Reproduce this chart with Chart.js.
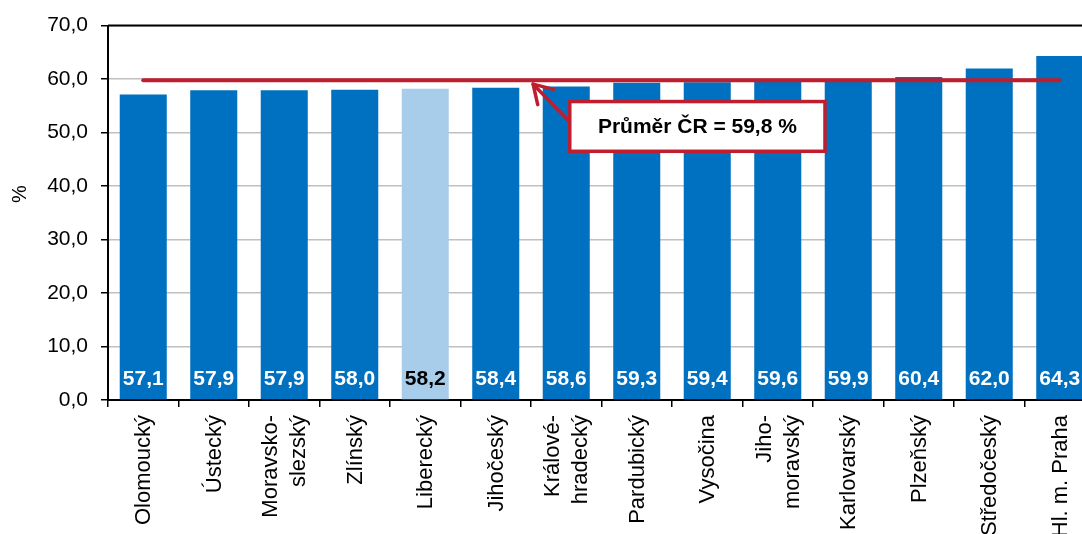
<!DOCTYPE html>
<html><head><meta charset="utf-8">
<script src="https://cdn.jsdelivr.net/npm/chart.js@4"></script>
<style>html,body{margin:0;padding:0;overflow:hidden;background:#fff}#wrap{width:1100px;height:534px;position:relative}</style>
</head><body><div id="wrap"><canvas id="c"></canvas></div>
<script>
const categories = [["Olomoucký"],["Ústecký"],["Moravsko-","slezský"],["Zlínský"],["Liberecký"],["Jihočeský"],["Králové-","hradecký"],["Pardubický"],["Vysočina"],["Jiho-","moravský"],["Karlovarský"],["Plzeňský"],["Středočeský"],["Hl. m. Praha"]];
const values = [57.1,57.9,57.9,58.0,58.2,58.4,58.6,59.3,59.4,59.6,59.9,60.4,62.0,64.3];
const average = 59.8;
const highlightIndex = 4;
const yMin = 0, yMax = 70, yStep = 10;
const annotationText = "Průměr ČR = 59,8 %";
const axisTitle = "%";

const FONT = '"Liberation Sans", Arial, Helvetica, sans-serif';
const BLUE = '#0070C0', LIGHT = '#A7CDEA', RED = '#BF1E2E';
const fmt = v => v.toFixed(1).replace('.', ',');

const labelsPlugin = {
  id: 'labels',
  afterDatasetsDraw(chart) {
    const ctx = chart.ctx, meta = chart.getDatasetMeta(1), yS = chart.scales.y;
    ctx.save();
    ctx.font = 'bold 21px ' + FONT;
    ctx.textAlign = 'center'; ctx.textBaseline = 'middle';
    meta.data.forEach((bar, i) => {
      ctx.fillStyle = i === highlightIndex ? '#000' : '#fff';
      ctx.fillText(fmt(values[i]), bar.x, yS.bottom - 21);
    });
    ctx.restore();
  },
  afterDraw(chart) {
    const ctx = chart.ctx, xS = chart.scales.x, yS = chart.scales.y, a = chart.chartArea;
    ctx.save();
    // top frame line
    ctx.strokeStyle = '#000'; ctx.lineWidth = 2;
    ctx.beginPath(); ctx.moveTo(a.left, a.top); ctx.lineTo(a.right, a.top); ctx.stroke();
    // axis title
    ctx.fillStyle = '#000'; ctx.font = '20px ' + FONT;
    ctx.translate(20, yS.getPixelForValue(38.5)); ctx.rotate(-Math.PI / 2);
    ctx.textAlign = 'center'; ctx.textBaseline = 'middle';
    ctx.fillText(axisTitle, 0, 0);
    ctx.restore();
    // category labels (rotated, multi-line centred on the category)
    ctx.save();
    ctx.fillStyle = '#000'; ctx.font = '22px ' + FONT;
    ctx.textAlign = 'right'; ctx.textBaseline = 'middle';
    const lh = 28;
    categories.forEach((lines, i) => {
      const cx = xS.getPixelForValue(i);
      lines.forEach((t, j) => {
        ctx.save();
        ctx.translate(cx + (j - (lines.length - 1) / 2) * lh + 1, xS.top + 15);
        ctx.rotate(-Math.PI / 2);
        ctx.fillText(t, 0, 0);
        ctx.restore();
      });
    });
    ctx.restore();
    // annotation box
    ctx.save();
    const bx0 = xS.getPixelForValue(6.05), bx1 = xS.getPixelForValue(9.67);
    const by0 = yS.getPixelForValue(55.8), by1 = yS.getPixelForValue(46.5);
    const tipX = xS.getPixelForValue(5.53), tipY = yS.getPixelForValue(average) + 4;
    const sx = bx0, sy = yS.getPixelForValue(52.0);
    ctx.strokeStyle = RED; ctx.lineWidth = 3.5; ctx.lineCap = 'round'; ctx.lineJoin = 'round';
    ctx.beginPath(); ctx.moveTo(sx, sy); ctx.lineTo(tipX, tipY); ctx.stroke();
    const ang = Math.atan2(tipY - sy, tipX - sx), L = 21, sp = 0.55;
    ctx.beginPath();
    ctx.moveTo(tipX - L * Math.cos(ang - sp), tipY - L * Math.sin(ang - sp));
    ctx.lineTo(tipX, tipY);
    ctx.lineTo(tipX - L * Math.cos(ang + sp), tipY - L * Math.sin(ang + sp));
    ctx.stroke();
    ctx.fillStyle = '#fff';
    ctx.fillRect(bx0, by0, bx1 - bx0, by1 - by0);
    ctx.lineWidth = 3.5; ctx.lineJoin = 'miter';
    ctx.strokeRect(bx0, by0, bx1 - bx0, by1 - by0);
    ctx.fillStyle = '#000'; ctx.font = 'bold 21px ' + FONT;
    ctx.textAlign = 'center'; ctx.textBaseline = 'middle';
    ctx.fillText(annotationText, (bx0 + bx1) / 2, (by0 + by1) / 2 + 1);
    ctx.restore();
  }
};

new Chart(document.getElementById('c'), {
  data: {
    labels: categories,
    datasets: [
      { type: 'line', data: categories.map(() => average), borderColor: RED, borderWidth: 4,
        pointRadius: 0, order: 0, borderCapStyle: 'round' },
      { type: 'bar', data: values, order: 1,
        backgroundColor: values.map((v, i) => i === highlightIndex ? LIGHT : BLUE),
        categoryPercentage: 1.0, barPercentage: 0.667 }
    ]
  },
  options: {
    responsive: true, maintainAspectRatio: false, animation: false,
    devicePixelRatio: 1,
    layout: { padding: { top: 25, right: 5, left: 0, bottom: 0 } },
    plugins: { legend: { display: false }, tooltip: { enabled: false } },
    scales: {
      x: {
        offset: true,
        grid: { drawOnChartArea: false, drawTicks: true, tickLength: 7, tickColor: '#000', offset: true, lineWidth: 1.5 },
        border: { color: '#000', width: 2 },
        ticks: { display: false, autoSkip: false },
        afterFit: s => { s.height = 134; }
      },
      y: {
        min: yMin, max: yMax,
        grid: { color: '#C0C0C0', lineWidth: 1.5, tickLength: 7, tickColor: '#000' },
        border: { color: '#000', width: 2 },
        ticks: { stepSize: yStep, color: '#000', font: { family: FONT, size: 21 }, padding: 13, callback: v => fmt(v) },
        afterFit: s => { s.width = 108; }
      }
    }
  },
  plugins: [labelsPlugin]
});
</script></body></html>
